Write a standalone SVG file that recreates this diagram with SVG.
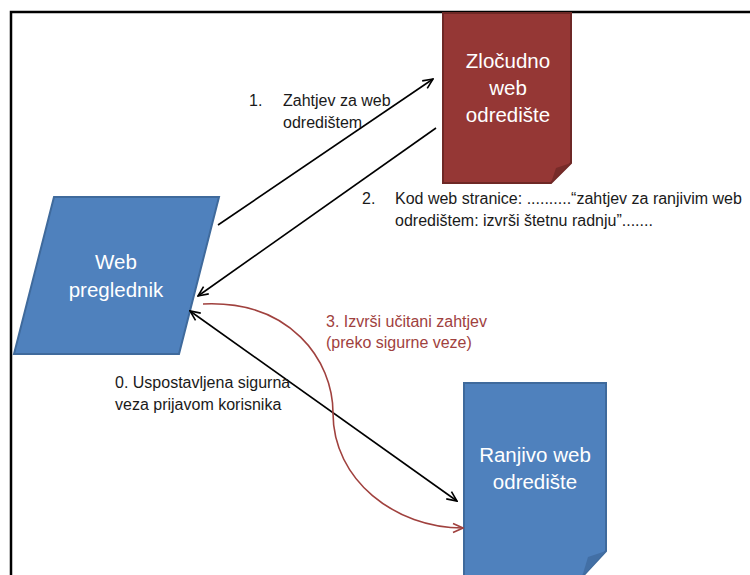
<svg xmlns="http://www.w3.org/2000/svg" width="750" height="575" viewBox="0 0 750 575">
<defs>
<style>
.lbl{font-family:"Liberation Sans",Arial,sans-serif;font-size:16px;fill:#1a1a1a}
.red{fill:#A0413E}
.nt{font-family:"Liberation Sans",Arial,sans-serif;font-size:20.5px;fill:#ffffff;text-anchor:middle}
.blk{stroke:#000;stroke-width:1.6;fill:none}
.rl{stroke:#A0413E;stroke-width:1.6;fill:none}
</style>
<marker id="ah" viewBox="0 0 12 12" refX="11" refY="6" markerWidth="12" markerHeight="12" markerUnits="userSpaceOnUse" orient="auto-start-reverse">
<path d="M1,1.5 L11,6 L1,10.5" fill="none" stroke="#000" stroke-width="1.6"/>
</marker>
<marker id="ahr" viewBox="0 0 12 12" refX="11" refY="6" markerWidth="12" markerHeight="12" markerUnits="userSpaceOnUse" orient="auto">
<path d="M1,1.5 L11,6 L1,10.5" fill="none" stroke="#A0413E" stroke-width="1.6"/>
</marker>
</defs>
<rect width="750" height="575" fill="#fff"/>
<path d="M11,575 V12 H750" fill="none" stroke="#000" stroke-width="2.5"/>

<g id="zlocudno">
<path d="M443,13 H571 V163 L551,183 H443 Z" fill="#953735" stroke="#6E2826" stroke-width="2"/>
<path d="M571,163 L551,183 L556,168 Z" fill="#772B29"/>
<text class="nt" x="508" y="68">Zločudno</text>
<text class="nt" x="508" y="95">web</text>
<text class="nt" x="508" y="122">odredište</text>
</g>

<g id="preglednik">
<path d="M54,197 H219 L179,354 H14 Z" fill="#4F81BD" stroke="#3F6A9C" stroke-width="2"/>
<text class="nt" x="116" y="269">Web</text>
<text class="nt" x="116" y="297">preglednik</text>
</g>

<g id="ranjivo">
<path d="M464,383 H606 V551 L582,577 H464 Z" fill="#4F81BD" stroke="#3F6A9C" stroke-width="2"/>
<path d="M606,551 L582,577 L588,557 Z" fill="#426FA5"/>
<text class="nt" x="535" y="462">Ranjivo web</text>
<text class="nt" x="535" y="489">odredište</text>
</g>

<g id="connectors">
<line class="blk" x1="218" y1="225" x2="433" y2="79" marker-end="url(#ah)"/>
<line class="blk" x1="436" y1="128" x2="198" y2="296" marker-end="url(#ah)"/>
<line class="blk" x1="190" y1="311" x2="457" y2="501" marker-start="url(#ah)" marker-end="url(#ah)"/>
<path class="rl" d="M203,304 C290,300 333,360 333,413 C333,480 395,528 463,528" marker-end="url(#ahr)"/>
</g>

<g id="labels">
<text class="lbl" x="249" y="106">1.</text>
<text class="lbl" x="283" y="106">Zahtjev za web</text>
<text class="lbl" x="283" y="128">odredištem</text>
<text class="lbl" x="362" y="204">2.</text>
<text class="lbl" x="395" y="204">Kod web stranice: ..........“zahtjev za ranjivim web</text>
<text class="lbl" x="395" y="226">odredištem: izvrši štetnu  radnju”.......</text>
<text class="lbl red" x="326" y="327">3. Izvrši učitani zahtjev</text>
<text class="lbl red" x="326" y="348">(preko sigurne veze)</text>
<text class="lbl" x="115" y="388">0. Uspostavljena sigurna</text>
<text class="lbl" x="115" y="410">veza prijavom korisnika</text>
</g>
</svg>
